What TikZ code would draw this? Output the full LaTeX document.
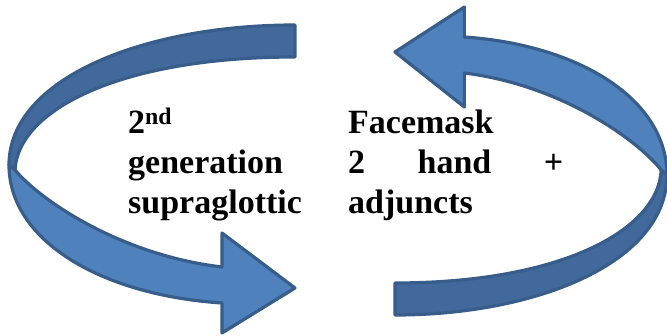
\documentclass[tikz,border=0pt]{standalone}
\usepackage{fontspec}
\setmainfont{Liberation Serif}
\definecolor{frontblue}{HTML}{4F81BD}
\definecolor{backblue}{HTML}{41699C}
\definecolor{edgeblue}{HTML}{385D8A}
\hyphenpenalty=10000
\hbadness=10000

\begin{document}
\begin{tikzpicture}[x=1pt,y=-1pt,
    backband/.style={fill=backblue,draw=edgeblue,line width=3.2pt,line join=round},
    frontband/.style={fill=frontblue,draw=edgeblue,line width=3.2pt,line join=round},
    coltext/.style={font=\bfseries\fontsize{34}{40}\selectfont,inner sep=0pt,align=justify,anchor=base west}]
        \useasboundingbox (0,0) rectangle (667,336);

        \draw[backband] (295,25) .. controls (145,25) and (9,78) .. (9,165)
            -- (15,170) .. controls (18,110) and (120,57) .. (295,57) -- cycle;
        \draw[frontband] (9,165) .. controls (9,240) and (100,295) .. (222,303)
            -- (222,333) -- (295,288) -- (222,233) -- (222,267)
            .. controls (120,255) and (40,200) .. (15,170) -- cycle;

        \begin{scope}[shift={(675.5,340)},xscale=-0.951,yscale=-1]
        \draw[backband] (295,25) .. controls (145,25) and (9,78) .. (9,165)
            -- (15,170) .. controls (18,110) and (120,57) .. (295,57) -- cycle;
        \draw[frontband] (9,165) .. controls (9,240) and (100,295) .. (222,303)
            -- (222,333) -- (295,288) -- (222,233) -- (222,267)
            .. controls (120,255) and (40,200) .. (15,170) -- cycle;
        \end{scope}

        \node[coltext,text width=185pt] (gen) at (128,134)
            {2\textsuperscript{nd}\linebreak generation\linebreak supraglottic};
        \node[coltext,text width=215pt] (mask) at (348,134)
            {Facemask\linebreak 2 hand +\linebreak adjuncts};
\end{tikzpicture}
\end{document}
